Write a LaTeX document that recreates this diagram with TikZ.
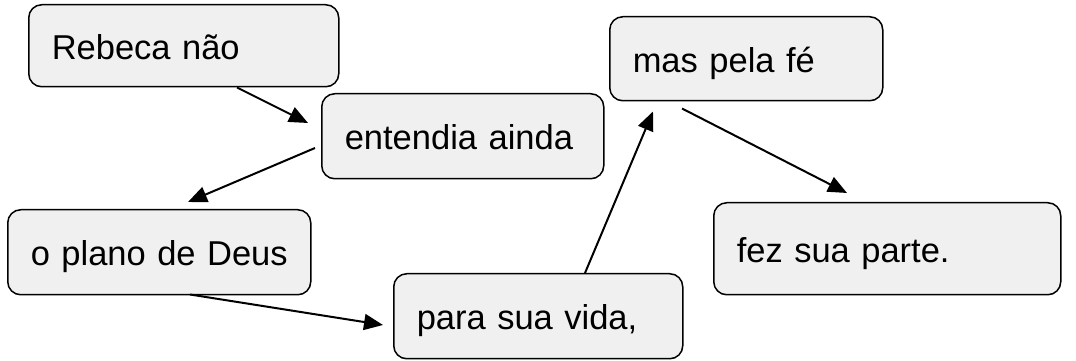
\documentclass[tikz,border=0pt]{standalone}
\usepackage{fontspec}
\setmainfont{Liberation Sans}
\usepackage{xcolor}
\usepackage{tikz}
\usetikzlibrary{arrows.meta}
\definecolor{boxgray}{HTML}{F0F0F0}

\begin{document}
\begin{tikzpicture}[x=1pt, y=1pt,
    box/.style={draw=black, fill=boxgray, line width=1.5pt, rounded corners=13pt,
        anchor=north west, inner xsep=23pt, inner ysep=0pt, align=left,
        text height=27pt, text depth=0pt,
        font=\fontsize{34.5}{40}\selectfont},
    arr/.style={line width=2pt, -{Triangle[length=19pt, width=16pt]}}]
\useasboundingbox (0,0) rectangle (1076,361);
\node [box, text width=264pt, minimum height=82pt] (reb) at (28,357) {\mbox{Rebeca não}};
\node [box, text width=236pt, minimum height=85pt] (ent) at (321,268) {\mbox{entendia ainda}};
\node [box, text width=257pt, minimum height=85pt] (pla) at (7,152) {\mbox{o plano de Deus}};
\node [box, text width=243pt, minimum height=85pt] (par) at (393,88) {\mbox{para sua vida,}};
\node [box, text width=227pt, minimum height=84pt] (mas) at (609,345) {\mbox{mas pela fé}};
\node [box, text width=301pt, minimum height=92pt] (fez) at (713,159) {\mbox{fez sua parte.}};
\draw [arr] ([shift={(209,0)}]reb.south west) -- ([shift={(-13,-30)}]ent.north west);
\draw [arr] ([shift={(-6,-55)}]ent.north west) -- ([shift={(181,7)}]pla.north west);
\draw [arr] ([shift={(183,1)}]pla.south west) -- ([shift={(-10,-52)}]par.north west);
\draw [arr] ([shift={(192,0)}]par.north west) -- ([shift={(44,-10)}]mas.south west);
\draw [arr] ([shift={(73,-7)}]mas.south west) -- ([shift={(134,9)}]fez.north west);
\end{tikzpicture}
\end{document}
